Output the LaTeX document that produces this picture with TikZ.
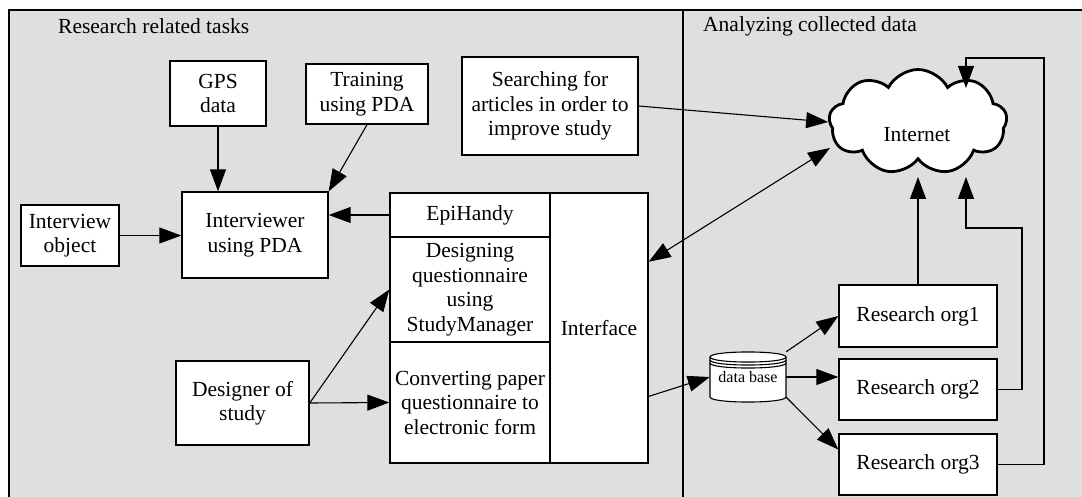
\documentclass[tikz,border=0pt]{standalone}
\usepackage{fontspec}
\setmainfont{Liberation Serif}
\usetikzlibrary{arrows.meta,shapes.symbols,calc}
\definecolor{panel}{RGB}{223,223,223}
\begin{document}
\begin{tikzpicture}[x=1pt,y=-1pt,
  txt/.style={font=\fontsize{21.5}{24.5}\selectfont},
  box/.style={txt, draw, line width=1.4pt, fill=white, align=center, inner sep=0pt},
  tip/.style={Triangle[length=22pt,width=16pt]},
  arr/.style={line width=1.1pt, -{Triangle[length=22pt,width=16pt]}},
  arrs/.style={line width=1.1pt, {Triangle[length=22pt,width=16pt]}-{Triangle[length=22pt,width=16pt]}},
  lbl/.style={txt, anchor=west, inner sep=0pt}]
\useasboundingbox (0,0) rectangle (1082,497);
\fill[white] (0,0) rectangle (1082,497);
\fill[panel] (9,10) rectangle (1082,497);
\draw[line width=2pt] (9,497) -- (9,10) -- (1082,10);
\draw[line width=2.8pt] (683,10) -- (683,497);

\node[lbl] (t1) at (58,26) {Research related tasks};
\node[lbl] (t2) at (703,26) {Analyzing collected data};

% left panel boxes
\node[box, minimum width=96, minimum height=65] (gps) at (218,93.5) {GPS\\data};
\node[box, minimum width=122, minimum height=60] (train) at (367,94) {Training\\using PDA};
\node[box, minimum width=176, minimum height=98] (srch) at (550,106) {Searching for\\articles in order to\\improve study};
\node[box, minimum width=98, minimum height=61] (obj) at (70,235.5) {Interview\\object};
\node[box, minimum width=146, minimum height=86] (intv) at (255,235) {Interviewer\\using PDA};
\node[box, minimum width=98, minimum height=270] (iface) at (599,328) {Interface};
\node[box, minimum width=160, minimum height=44] (epi) at (470,215) {EpiHandy};
\node[box, minimum width=160, minimum height=105] (design) at (470,289.5) {Designing\\questionnaire\\using\\StudyManager};
\node[box, minimum width=160, minimum height=121] (conv) at (470,402.5) {Converting paper\\questionnaire to\\electronic form};
\node[box, minimum width=133, minimum height=84] (designer) at (242.5,403) {Designer of\\study};

% right panel
\node[cloud, cloud puffs=9, cloud puff arc=125, draw, line width=2.8pt, fill=white,
      minimum width=178, minimum height=105, inner sep=0pt, aspect=1.7] (inet) at (918,122) {};
\node[txt, inner sep=0pt] (inettxt) at (917,135) {Internet};

\node[box, minimum width=158, minimum height=62] (org1) at (918,316) {Research org1};
\node[box, minimum width=158, minimum height=61] (org2) at (918,389.5) {Research org2};
\node[box, minimum width=158, minimum height=61] (org3) at (918,464.5) {Research org3};

% database cylinder
\path[fill=white, draw, line width=1.1pt]
  (710,357) -- (710,397) .. controls (710,403.7) and (786,403.7) .. (786,397)
  -- (786,357) .. controls (786,350.3) and (710,350.3) .. (710,357) -- cycle;
\draw[line width=1.1pt] (710,357) .. controls (710,363.7) and (786,363.7) .. (786,357);
\draw[line width=1.1pt] (710,360) .. controls (710,366.7) and (786,366.7) .. (786,360);
\draw[line width=1.1pt] (710,363) .. controls (710,369.7) and (786,369.7) .. (786,363);
\node[inner sep=0pt, minimum width=76, minimum height=50, font=\fontsize{16}{18}\selectfont] (db) at (748,377) {\raisebox{-7pt}{data base}};

% connector end points
\coordinate (ifdb) at ($(iface.north east)!0.752!(iface.south east)$);
\coordinate (ifnet) at ($(iface.north east)!0.256!(iface.south east)$);
\coordinate (o3in) at ($(org3.north west)!0.26!(org3.south west)$);
\coordinate (inb) at (966,177);
\coordinate (intop) at (966,88);
\coordinate (inl) at (830,148);

% connectors
\draw[arr] (gps.south) -- (gps.south |- intv.north);
\draw[arr] (train.south) -- (intv.north east);
\draw[arr] (obj.east) -- (obj.east -| intv.west);
\draw[arr] (epi.west) -- (epi.west -| intv.east);
\draw[arr] (designer.east) -- (design.west);
\draw[arr] (designer.east) -- (conv.west);
\draw[arr] (srch.east) -- (inet.west);
\draw[arrs] (ifnet) -- (inl);
\draw[arr] (ifdb) -- (db.west);
\draw[arr] (db.north east) -- (org1.west);
\draw[arr] (db.east) -- (db.east -| org2.west);
\draw[arr] ($(db.south east)+(0,-5)$) -- (o3in);
\draw[arr] (org1.north) -- (org1.north |- inb);
\draw[arr] (org2.east) -| (1022,228) -| (inb);
\draw[arr] (org3.east) -| (1044,58) -| (intop);
\end{tikzpicture}
\end{document}
